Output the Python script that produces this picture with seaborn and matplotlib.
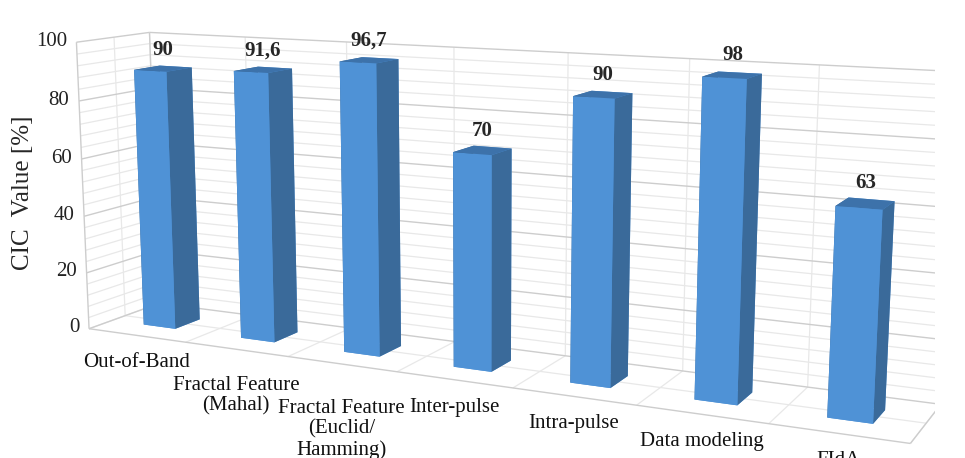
import numpy as np
import pandas as pd
import seaborn as sns
import matplotlib
matplotlib.use("Agg")
import matplotlib.pyplot as plt
from mpl_toolkits.mplot3d import Axes3D, proj3d  # noqa: F401

# Detection methods and their CIC values
methods = ["Out-of-Band", "Fractal Feature\n(Mahal)", "Fractal Feature\n(Euclid/\nHamming)",
           "Inter-pulse", "Intra-pulse", "Data modeling", "FIdA"]
cic_values = [90, 91.6, 96.7, 70, 90, 98, 63]
value_labels = ["90", "91,6", "96,7", "70", "90", "98", "63"]
major_ticks = [0, 20, 40, 60, 80, 100]
minor_step = 4

df = pd.DataFrame({"method": methods, "cic": cic_values, "label": value_labels})

sns.set_style("white")
plt.rcParams["font.family"] = ["Liberation Serif", "DejaVu Serif"]

face_front = "#4F92D6"
face_side = "#3A6A9A"
face_top = "#3D72AA"
grid_minor = "#E8E8E8"
grid_major = "#CDCDCD"

fig = plt.figure(figsize=(9.65, 4.58), dpi=100)
ax = fig.add_axes([0.005, -0.506, 0.964, 2.03], projection="3d")
ax.set_axis_off()
ax.computed_zorder = False

n = len(df)
x0, x1 = -0.5, n - 0.5
bar_w = 0.33
bar_d = 0.36
depth = 1.0
zmax = 100

ax.set_xlim(x0, x1)
ax.set_ylim(0, depth)
ax.set_zlim(0, zmax)
ax.set_proj_type("persp", focal_length=0.35)
ax.view_init(elev=11, azim=-64)
ax.set_box_aspect((7, 1.0, 2.45), zoom=1.0)


# wall and floor grid
def seg(xs, ys, zs, color=grid_minor, lw=0.9):
    ax.plot(xs, ys, zs, color=color, lw=lw, solid_capstyle="butt", zorder=1)


for t in np.arange(0, zmax + 1, minor_step):
    if t % 20:
        seg([x0, x1], [depth, depth], [t, t])
        seg([x0, x0], [0, depth], [t, t])
for b in np.arange(n + 1) - 0.5:
    seg([b, b], [0, depth], [0, 0])
    seg([b, b], [depth, depth], [0, zmax])
seg([x0, x1], [depth / 2, depth / 2], [0, 0])
seg([x0, x0], [depth / 2, depth / 2], [0, zmax])
for t in major_ticks:
    seg([x0, x1], [depth, depth], [t, t], grid_major, 1.0)
    seg([x0, x0], [0, depth], [t, t], grid_major, 1.0)
seg([x0, x1], [0, 0], [0, 0], grid_major, 1.0)
seg([x1, x1], [0, depth], [0, 0], grid_major, 1.0)
seg([x0, x0], [0, 0], [0, zmax], grid_major, 1.0)
seg([x0, x0], [depth, depth], [0, zmax], grid_major, 1.0)

# one cuboid per method; face order: -z, +z, -y (front), +y, -x, +x (side)
for i, row in df.iterrows():
    bars = ax.bar3d(i - bar_w / 2, (depth - bar_d) / 2, 0, bar_w, bar_d, row["cic"],
                    color=[face_front, face_top, face_front, face_front, face_side, face_side],
                    shade=False, edgecolor="none")
    bars.set_zorder(2)

M = ax.get_proj()


def to_screen(x, y, z):
    px, py, _ = proj3d.proj_transform(x, y, z, M)
    return px, py


# value axis labels along the front edge of the side wall
for t in major_ticks:
    ax.text2D(*to_screen(x0 - 0.1, 0, t), str(t), transform=ax.transData,
              ha="right", va="center", fontsize=15, color="#222222", zorder=3)

# value labels over the bars
for i, row in df.iterrows():
    ax.text2D(*to_screen(i, 0.5, row["cic"] + 3), row["label"], transform=ax.transData,
              ha="center", va="bottom", fontsize=15, fontweight="bold",
              color="#262626", zorder=3)

# category labels under the front edge of the floor
for i, row in df.iterrows():
    lines = row["method"].count("\n")
    ax.annotate(row["method"], xy=to_screen(i, 0, 0), xycoords="data",
                xytext=(0, -(13 + 6 * lines)), textcoords="offset points",
                ha="center", va="top", fontsize=15, color="#111111",
                linespacing=1.1, annotation_clip=False, zorder=3)

fig.text(0.024, 0.58, "CIC  Value [%]", rotation=90, ha="center", va="center", fontsize=18)

fig.savefig("out.png", dpi=100)
